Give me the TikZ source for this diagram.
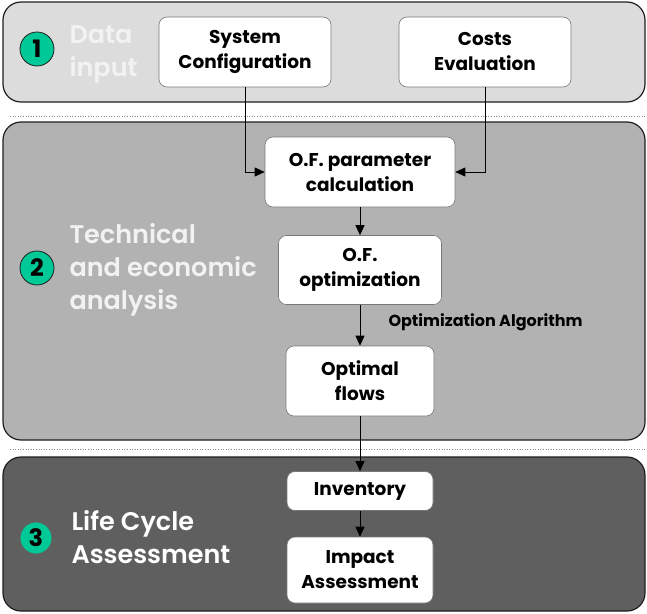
\documentclass[tikz,border=0pt]{standalone}
\usepackage{fontspec}
\setmainfont{Poppins}
\newfontfamily\ttlfont{Poppins}[UprightFont=* SemiBold]
\usetikzlibrary{positioning,arrows.meta}
\definecolor{ink}{RGB}{0,0,0}
\definecolor{panelone}{RGB}{220,220,220}
\definecolor{paneltwo}{RGB}{178,178,178}
\definecolor{panelthree}{RGB}{95,95,95}
\definecolor{panelfr}{RGB}{30,30,30}
\definecolor{boxfr}{RGB}{120,120,120}
\definecolor{stepgreen}{RGB}{0,200,150}
\definecolor{sepgray}{RGB}{140,140,140}
\definecolor{titlewhite}{RGB}{242,242,242}
\tikzset{
  panel/.style={draw=panelfr, rounded corners=18pt, line width=1.2pt},
  box/.style={draw=boxfr, fill=white, rounded corners=8pt, align=center,
    inner sep=2pt, font=\bfseries\fontsize{18.5}{25}\selectfont, text=ink, line width=0.6pt},
  num/.style={circle, draw=panelfr, fill=stepgreen, minimum size=34pt, inner sep=0pt,
    font=\bfseries\fontsize{24}{24}\selectfont, text=ink, line width=0.8pt},
  ttl/.style={anchor=west, align=left, text=titlewhite,
    font=\ttlfont\fontsize{25.5}{33}\selectfont},
  flow/.style={-{Triangle[length=10pt,width=9pt]}, line width=0.8pt, draw=ink},
  sep/.style={draw=sepgray, dotted, line width=0.6pt},
}
\begin{document}
\begin{tikzpicture}[x=1pt,y=-1pt]
  \useasboundingbox (0,0) rectangle (647,613);
  % panels
  \draw[panel, fill=panelone] (3,2) rectangle (645,102);
  \draw[panel, fill=paneltwo] (3,122) rectangle (645,440);
  \draw[panel, fill=panelthree] (3,457) rectangle (645,611);
  \draw[sep] (10,116) -- (647,116);
  \draw[sep] (10,449) -- (647,449);
  % step labels
  \node[num] (n1) at (37,49) {1};
  \node[ttl] (t1) at (66,54) {Data\\input};
  \node[num] (n2) at (37,268) {2};
  \node[ttl] (t2) at (66,270) {Technical\\and economic\\analysis};
  \node[num, draw=panelthree, minimum size=32pt] (n3) at (36,538) {3};
  \node[ttl, text=white] (t3) at (68,537) {Life Cycle\\Assessment};
  % boxes
  \node[box, minimum width=172pt, minimum height=70pt] (sys) at (245,52) {System\\Configuration};
  \node[box, minimum width=172pt, minimum height=70pt] (cost) at (485,52) {Costs\\Evaluation};
  \node[box, minimum width=190pt, minimum height=70pt] (ofpar) at (360,172) {O.F. parameter\\calculation};
  \node[box, minimum width=163pt, minimum height=69pt] (ofopt) at (360,270) {O.F.\\optimization};
  \node[box, minimum width=148pt, minimum height=70pt] (flows) at (360,381) {Optimal\\flows};
  \node[box, minimum width=146pt, minimum height=39pt] (inv) at (360,491) {Inventory};
  \node[box, minimum width=146pt, minimum height=66pt] (imp) at (360,570) {Impact\\Assessment};
  \node[anchor=west, font=\bfseries\fontsize{16}{16}\selectfont, text=ink] (alg) at (385,322) {Optimization Algorithm};
  % connectors
  \draw[flow] (sys.south) |- (ofpar.west);
  \draw[flow] (cost.south) |- (ofpar.east);
  \draw[flow] (ofpar) -- (ofopt);
  \draw[flow] (ofopt) -- (flows);
  \draw[flow] (flows) -- (inv);
  \draw[flow] (inv) -- (imp);
\end{tikzpicture}
\end{document}
